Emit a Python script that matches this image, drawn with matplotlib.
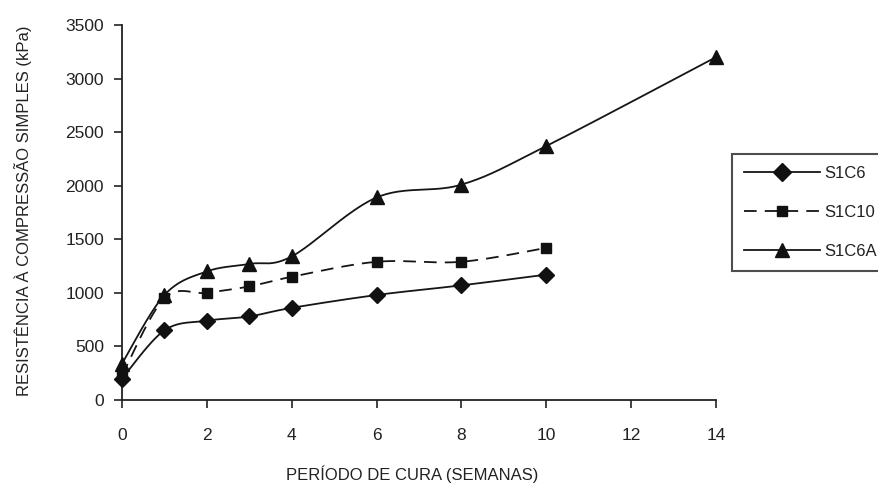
import numpy as np
import matplotlib
matplotlib.use("Agg")
import matplotlib.pyplot as plt
from matplotlib.lines import Line2D

plt.rcParams['font.family'] = ['Liberation Sans', 'DejaVu Sans']

# Curing period (weeks) and unconfined compressive strength (kPa)
weeks_s1c6 = [0, 1, 2, 3, 4, 6, 8, 10]
s1c6 = [200, 650, 740, 780, 860, 980, 1070, 1170]

weeks_s1c10 = [0, 1, 2, 3, 4, 6, 8, 10]
s1c10 = [230, 950, 1000, 1060, 1150, 1290, 1290, 1420]

weeks_s1c6a = [0, 1, 2, 3, 4, 6, 8, 10, 14]
s1c6a = [340, 980, 1200, 1270, 1340, 1890, 2010, 2370, 3200]

series_names = ["S1C6", "S1C10", "S1C6A"]
x_ticks = [0, 2, 4, 6, 8, 10, 12, 14]
y_ticks = [0, 500, 1000, 1500, 2000, 2500, 3000, 3500]


def smooth(xs, ys, n=40):
    """Catmull-Rom style cubic Bezier smoothing through every point."""
    x = np.asarray(xs, float)
    y = np.asarray(ys, float)
    P = np.column_stack([x, y])
    out = [P[0]]
    for i in range(len(P) - 1):
        p0 = P[i - 1] if i > 0 else P[i]
        p1, p2 = P[i], P[i + 1]
        p3 = P[i + 2] if i + 2 < len(P) else P[i + 1]
        c1 = p1 + (p2 - p0) / 6.0
        c2 = p2 - (p3 - p1) / 6.0
        t = np.linspace(0, 1, n)[1:, None]
        seg = ((1 - t) ** 3) * p1 + 3 * ((1 - t) ** 2) * t * c1 \
            + 3 * (1 - t) * t ** 2 * c2 + t ** 3 * p2
        out.extend(seg)
    out = np.array(out)
    return out[:, 0], out[:, 1]


fig = plt.figure(figsize=(8.79, 4.91), dpi=100)
ax = fig.add_axes([122 / 879, 1 - 400 / 491, 594 / 879, 375 / 491])

lw = 1.3
styles = [
    dict(x=weeks_s1c6, y=s1c6, marker='D', ms=8, ls='-'),
    dict(x=weeks_s1c10, y=s1c10, marker='s', ms=6.5, ls=(0, (7, 4.5))),
    dict(x=weeks_s1c6a, y=s1c6a, marker='^', ms=9.5, ls='-'),
]

handles = []
for name, st in zip(series_names, styles):
    sx, sy = smooth(st['x'], st['y'])
    ax.plot(sx, sy, color='#151515', lw=lw, ls=st['ls'], zorder=2)
    ax.plot(st['x'], st['y'], ls='none', marker=st['marker'], ms=st['ms'],
            color='#111111', zorder=3, clip_on=False)
    handles.append(Line2D([], [], color='#151515', lw=lw, ls=st['ls'],
                          marker=st['marker'], ms=st['ms'] + 0.8,
                          markerfacecolor='#111111', markeredgecolor='#111111'))

ax.set_xlim(0, 14)
ax.set_ylim(0, 3500)
ax.set_xticks(x_ticks)
ax.set_yticks(y_ticks)

for side in ('top', 'right'):
    ax.spines[side].set_visible(False)
for side in ('left', 'bottom'):
    ax.spines[side].set_linewidth(1.3)
    ax.spines[side].set_color('#222222')

ax.tick_params(axis='both', direction='out', length=6, width=1.2,
               color='#222222', labelsize=12.5, labelcolor='#222222')
ax.tick_params(axis='x', pad=14)
ax.tick_params(axis='y', pad=7)

fig.text(23 / 879, 1 - 211 / 491, "RESISTÊNCIA À COMPRESSÃO SIMPLES (kPa)",
         rotation=90, ha='center', va='center', fontsize=12, color='#222222')
fig.text(412 / 879, 1 - 474 / 491, "PERÍODO DE CURA (SEMANAS)",
         ha='center', va='center', fontsize=12, color='#222222')

leg = fig.legend(handles, series_names, loc='upper left',
                 bbox_to_anchor=(732 / 879, 1 - 154 / 491),
                 fontsize=12, handlelength=4.6, handletextpad=0.25,
                 labelspacing=1.45, borderpad=0.7, borderaxespad=0,
                 frameon=True, fancybox=False, markerscale=1.0)
leg.get_frame().set_edgecolor('#222222')
leg.get_frame().set_linewidth(1.5)
for t in leg.get_texts():
    t.set_color('#222222')

fig.savefig("out.png", dpi=100)
